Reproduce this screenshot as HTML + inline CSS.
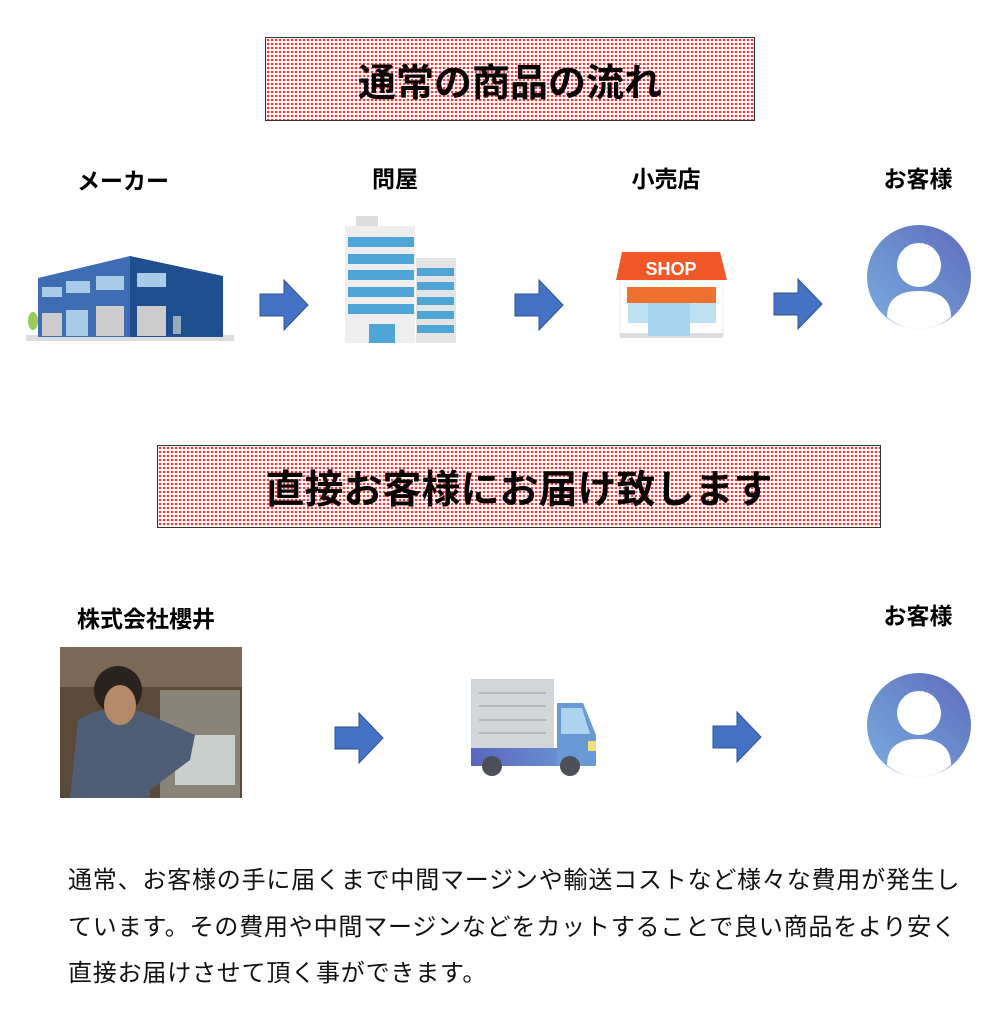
<!DOCTYPE html>
<html><head><meta charset="utf-8"><style>
body{margin:0;width:1000px;height:1023px;background:#fff;position:relative;overflow:hidden;font-family:"Liberation Sans","Noto Sans CJK JP",sans-serif;}
.box{position:absolute;border:1.5px solid #333;box-sizing:border-box;background-color:#fff;background-image:radial-gradient(circle,#f33 1.1px,transparent 1.4px);background-size:4px 4px;display:flex;align-items:center;justify-content:center;font-weight:bold;color:#000;}
.lbl{position:absolute;font-weight:bold;font-size:23px;transform:translateX(-50%);white-space:nowrap;}
.abs{position:absolute;}
p{position:absolute;left:68px;top:858px;margin:0;font-size:24px;line-height:46.5px;letter-spacing:0.8px;width:900px;color:#111;}
</style></head><body>
<div class="box" style="left:265px;top:37px;width:490px;height:84px;font-size:38px;">通常の商品の流れ</div>
<div class="box" style="left:157px;top:445px;width:724px;height:83px;font-size:39px;">直接お客様にお届け致します</div>

<div class="lbl" style="left:123px;top:162px">メーカー</div>
<div class="lbl" style="left:395px;top:160px">問屋</div>
<div class="lbl" style="left:666px;top:160px">小売店</div>
<div class="lbl" style="left:918px;top:160px">お客様</div>
<div class="lbl" style="left:146px;top:600px">株式会社櫻井</div>
<div class="lbl" style="left:918px;top:597px">お客様</div>

<svg class="abs" style="left:0;top:0" width="1000" height="1023">
<defs>
<linearGradient id="av" x1="0" y1="1" x2="1" y2="0"><stop offset="0" stop-color="#7aaee0"/><stop offset="1" stop-color="#5d6bbb"/></linearGradient>
<linearGradient id="tr" x1="0" y1="0" x2="1" y2="0"><stop offset="0" stop-color="#5a66bd"/><stop offset="1" stop-color="#6f9fd8"/></linearGradient>
<g id="arr"><polygon points="0,14 24,14 24,0 48,25 24,50 24,36 0,36" fill="#4472c4" stroke="#2f528f" stroke-width="1"/></g>
<g id="avatar"><circle cx="0" cy="0" r="52" fill="url(#av)"/><circle cx="0" cy="-12" r="22" fill="#fff"/><path d="M-32,40 Q-32,14 0,14 Q32,14 32,40 Q18,52 0,52 Q-18,52 -32,40Z" fill="#fff"/></g>
</defs>
<use href="#arr" x="260" y="280"/><use href="#arr" x="515" y="280"/><use href="#arr" x="774" y="279"/>
<use href="#arr" x="335" y="713"/><use href="#arr" x="713" y="712"/>
<rect x="26" y="335" width="208" height="6" fill="#ddd"/>
<polygon points="38,278 130,256 130,337 38,337" fill="#3f6db3"/>
<polygon points="130,256 223,276 223,337 130,337" fill="#1f4f8f"/>
<rect x="42" y="287" width="20" height="10" fill="#a8cbe8"/><rect x="66" y="281" width="24" height="12" fill="#a8cbe8"/><rect x="96" y="276" width="28" height="14" fill="#a8cbe8"/><rect x="137" y="273" width="29" height="14" fill="#a8cbe8"/>
<rect x="42" y="313" width="20" height="23" fill="#ccc"/><rect x="66" y="310" width="22" height="26" fill="#a8cbe8"/><rect x="96" y="306" width="28" height="30" fill="#ccc"/><rect x="137" y="306" width="29" height="30" fill="#ccc"/><rect x="173" y="316" width="8" height="18" fill="#9ab"/>
<ellipse cx="33" cy="321" rx="5" ry="9" fill="#9c5"/>
<rect x="356" y="216" width="22" height="10" fill="#ddd"/>
<rect x="345" y="226" width="70" height="117" fill="#eee"/>
<rect x="416" y="258" width="40" height="85" fill="#e4e4e4"/>
<g fill="#4ea5d6"><rect x="348" y="237" width="66" height="10"/><rect x="348" y="254" width="66" height="10"/><rect x="348" y="270" width="66" height="10"/><rect x="348" y="287" width="66" height="10"/><rect x="348" y="304" width="66" height="10"/>
<rect x="417" y="268" width="37" height="8"/><rect x="417" y="282" width="37" height="8"/><rect x="417" y="297" width="37" height="8"/><rect x="417" y="311" width="37" height="8"/><rect x="417" y="325" width="37" height="8"/><rect x="369" y="324" width="26" height="19"/></g>
<rect x="620" y="280" width="103" height="56" fill="#fff" stroke="#eee"/>
<rect x="620" y="333" width="103" height="5" fill="#ddd"/>
<polygon points="622,252 720,252 727,280 616,280" fill="#f0582a"/>
<text x="671" y="275" font-family="Liberation Sans" font-weight="bold" font-size="18" fill="#fff" text-anchor="middle">SHOP</text>
<rect x="627" y="287" width="89" height="16" fill="#f07030"/>
<rect x="628" y="303" width="88" height="20" fill="#bde0f3"/><rect x="648" y="303" width="42" height="33" fill="#a6d4ef"/>
<use href="#avatar" x="919" y="277"/>
<use href="#avatar" x="919" y="725"/>
<rect x="60" y="647" width="182" height="151" fill="#5a4a3a"/>
<rect x="60" y="647" width="182" height="40" fill="#7a6a55"/>
<rect x="160" y="690" width="80" height="108" fill="#8a8478"/>
<rect x="175" y="735" width="60" height="50" fill="#c8cfcd"/>
<circle cx="118" cy="690" r="24" fill="#2a221c"/>
<path d="M70,798 L78,720 Q110,700 150,715 L195,735 L190,760 L150,790 L150,798Z" fill="#4f5e74"/>
<ellipse cx="120" cy="705" rx="16" ry="20" fill="#b58a6a"/>
<rect x="471" y="679" width="83" height="69" fill="#d3d6d9"/>
<g stroke="#a9adb3" stroke-width="1.5"><line x1="479" y1="693" x2="546" y2="693"/><line x1="479" y1="706" x2="546" y2="706"/><line x1="479" y1="720" x2="546" y2="720"/><line x1="479" y1="733" x2="546" y2="733"/></g>
<rect x="471" y="748" width="125" height="18" fill="url(#tr)"/>
<polygon points="557,703 583,703 596,735 596,766 557,766" fill="#6a9ad6"/>
<polygon points="561,708 582,708 590,734 561,734" fill="#aed3ee"/>
<rect x="588" y="741" width="8" height="10" fill="#f1df7c"/>
<circle cx="492" cy="766" r="10" fill="#4d5058"/><circle cx="570" cy="766" r="10" fill="#4d5058"/>
</svg>
<p>通常、お客様の手に届くまで中間マージンや輸送コストなど様々な費用が発生しています。その費用や中間マージンなどをカットすることで良い商品をより安く直接お届けさせて頂く事ができます。</p>
</body></html>
